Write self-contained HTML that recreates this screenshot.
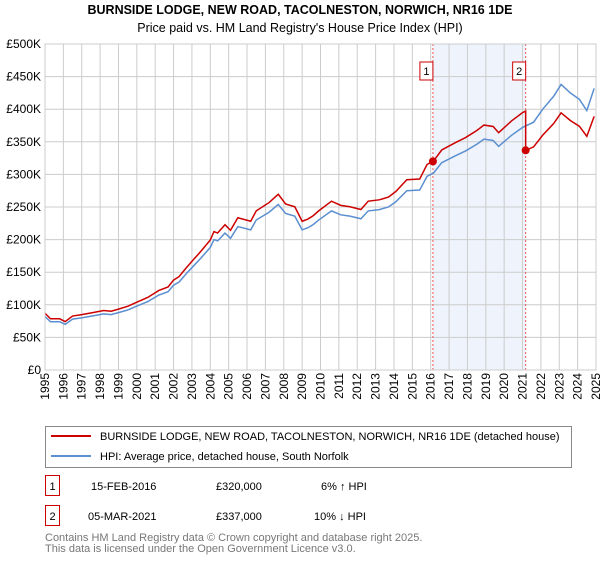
<!DOCTYPE html>
<html><head><meta charset="utf-8"><style>
body{margin:0;background:#fff;font-family:"Liberation Sans",sans-serif;}
svg text{font-family:"Liberation Sans","DejaVu Sans",sans-serif;}
</style></head><body>
<svg width="600" height="560" xmlns="http://www.w3.org/2000/svg">
<text x="300" y="14" text-anchor="middle" font-size="12.5" font-weight="bold" fill="#000">BURNSIDE LODGE, NEW ROAD, TACOLNESTON, NORWICH, NR16 1DE</text>
<text x="300" y="32" text-anchor="middle" font-size="12.5" fill="#000">Price paid vs. HM Land Registry's House Price Index (HPI)</text>
<g id="plot"></g>
<g>
<rect x="45.5" y="426.5" width="526" height="41" fill="#fff" stroke="#888"/>
<line x1="51" y1="436" x2="91" y2="436" stroke="#cc0000" stroke-width="2"/>
<text x="100" y="440" font-size="11">BURNSIDE LODGE, NEW ROAD, TACOLNESTON, NORWICH, NR16 1DE (detached house)</text>
<line x1="51" y1="456" x2="91" y2="456" stroke="#5b8fd0" stroke-width="2"/>
<text x="100" y="460" font-size="11">HPI: Average price, detached house, South Norfolk</text>
</g>
<g font-size="11">
<rect x="45.5" y="475.5" width="14" height="20" fill="#fff" stroke="#cc0000"/>
<text x="52.5" y="490" text-anchor="middle">1</text>
<text x="91" y="490">15-FEB-2016</text>
<text x="216" y="490">£320,000</text>
<text x="321" y="490">6% ↑ HPI</text>
<rect x="45.5" y="505.5" width="14" height="20" fill="#fff" stroke="#cc0000"/>
<text x="52.5" y="520" text-anchor="middle">2</text>
<text x="88" y="520">05-MAR-2021</text>
<text x="216" y="520">£337,000</text>
<text x="314" y="520">10% ↓ HPI</text>
</g>
<text x="45" y="541" font-size="11" fill="#777">Contains HM Land Registry data © Crown copyright and database right 2025.</text>
<text x="45" y="552" font-size="11" fill="#777">This data is licensed under the Open Government Licence v3.0.</text>
</svg>
<script>
const hpiYears=[1995.0,1995.3,1995.8,1996.1,1996.5,1997.0,1997.6,1998.2,1998.6,1999.0,1999.5,2000.0,2000.6,2001.2,2001.7,2002.0,2002.3,2002.7,2003.1,2003.5,2004.0,2004.2,2004.4,2004.8,2005.1,2005.5,2006.2,2006.5,2007.2,2007.7,2008.1,2008.6,2009.0,2009.3,2009.6,2009.9,2010.6,2011.1,2011.6,2012.2,2012.6,2013.2,2013.7,2014.1,2014.7,2015.4,2015.8,2016.15,2016.6,2017.3,2017.9,2018.5,2018.9,2019.4,2019.7,2020.4,2021.0,2021.6,2022.1,2022.7,2023.1,2023.6,2024.1,2024.5,2024.9];
const hpiValues=[82,74,74,70,78,80,83,86,85,88,92,98,105,115,120,130,135,148,160,172,188,200,198,210,202,220,215,230,242,254,240,236,215,218,223,230,244,238,236,232,244,246,250,258,275,276,297,302,318,328,336,346,354,352,343,360,372,380,400,420,438,425,415,398,432];
const saleYears=[2016.12,2021.17];
const salePrices=[320,337];
const saleLabels=["1","2"];
const yTicks=[0,50,100,150,200,250,300,350,400,450,500];
const yTickLabels=["£0","£50K","£100K","£150K","£200K","£250K","£300K","£350K","£400K","£450K","£500K"];
const xTicks=[1995,1996,1997,1998,1999,2000,2001,2002,2003,2004,2005,2006,2007,2008,2009,2010,2011,2012,2013,2014,2015,2016,2017,2018,2019,2020,2021,2022,2023,2024,2025];

const L=45,R=596,T=44,B=370,X0=1995,X1=2025,YMAX=500;
const xs=v=>L+(v-X0)/(X1-X0)*(R-L);
const ys=v=>B-v/YMAX*(B-T);
const NS="http://www.w3.org/2000/svg";
const g=document.getElementById('plot');
function mk(t,a){const e=document.createElementNS(NS,t);for(const k in a)e.setAttribute(k,a[k]);g.appendChild(e);return e;}
function hpiAt(y){for(let i=1;i<hpiYears.length;i++){if(y<=hpiYears[i]){const f=(y-hpiYears[i-1])/(hpiYears[i]-hpiYears[i-1]);return hpiValues[i-1]+f*(hpiValues[i]-hpiValues[i-1]);}}return hpiValues[hpiValues.length-1];}
let e=mk('rect',{x:xs(saleYears[0]),y:T,width:xs(saleYears[1])-xs(saleYears[0]),height:B-T,fill:'#eef3fc'});


yTicks.forEach((t,i)=>{
 let l=mk('line',{x1:L,x2:R,y1:ys(t),y2:ys(t),stroke:'#cccccc'});
 
 
 let tx=mk('text',{x:L-4,y:ys(t)+4,'text-anchor':'end','font-size':'12'});tx.textContent=yTickLabels[i];
 
 
});
xTicks.forEach(t=>{
 let l=mk('line',{x1:xs(t),x2:xs(t),y1:T,y2:B,stroke:'#cccccc'});
 
 
 const px=xs(t)+4,py=B+3;
 let tx=mk('text',{x:px,y:py,'text-anchor':'end','font-size':'12',transform:'rotate(-90 '+px+' '+py+')'});tx.textContent=t;
 
 
});
saleYears.forEach((s,i)=>{
 let l=mk('line',{x1:xs(s),x2:xs(s),y1:T,y2:B,stroke:'#ee5555','stroke-dasharray':'2,2'});
 
 
 let r=mk('rect',{x:xs(s)-13,y:T+18,width:13,height:18,fill:'#fff',stroke:'#cc0000'});
 
 
 let tx=mk('text',{x:xs(s)-6.5,y:T+31,'text-anchor':'middle','font-size':'11'});tx.textContent=saleLabels[i];
 
 
});
const f1=salePrices[0]/hpiAt(saleYears[0]), f2=salePrices[1]/hpiAt(saleYears[1]);
let pb='',pr='';
hpiYears.forEach((y,i)=>{pb+=(i?'L':'M')+xs(y)+','+ys(hpiValues[i]);});
hpiYears.forEach((y,i)=>{
 if(y>saleYears[1]&&hpiYears[i-1]<=saleYears[1]){pr+='L'+xs(saleYears[1])+','+ys(hpiAt(saleYears[1])*f1)+'L'+xs(saleYears[1])+','+ys(salePrices[1]);}
 const f=y<=saleYears[1]?f1:f2;pr+=(i?'L':'M')+xs(y)+','+ys(hpiValues[i]*f);});
let b=mk('path',{d:pb,fill:'none',stroke:'#5b8fd0','stroke-width':1.5});


let rl=mk('path',{d:pr,fill:'none',stroke:'#cc0000','stroke-width':1.5});


saleYears.forEach((s,i)=>{
 let c=mk('circle',{cx:xs(s),cy:ys(salePrices[i]),r:4,fill:'#cc0000'});
 
 
});
mk('rect',{x:L,y:T,width:R-L,height:B-T,fill:'none',stroke:'#cccccc'});
</script>
</body></html>
